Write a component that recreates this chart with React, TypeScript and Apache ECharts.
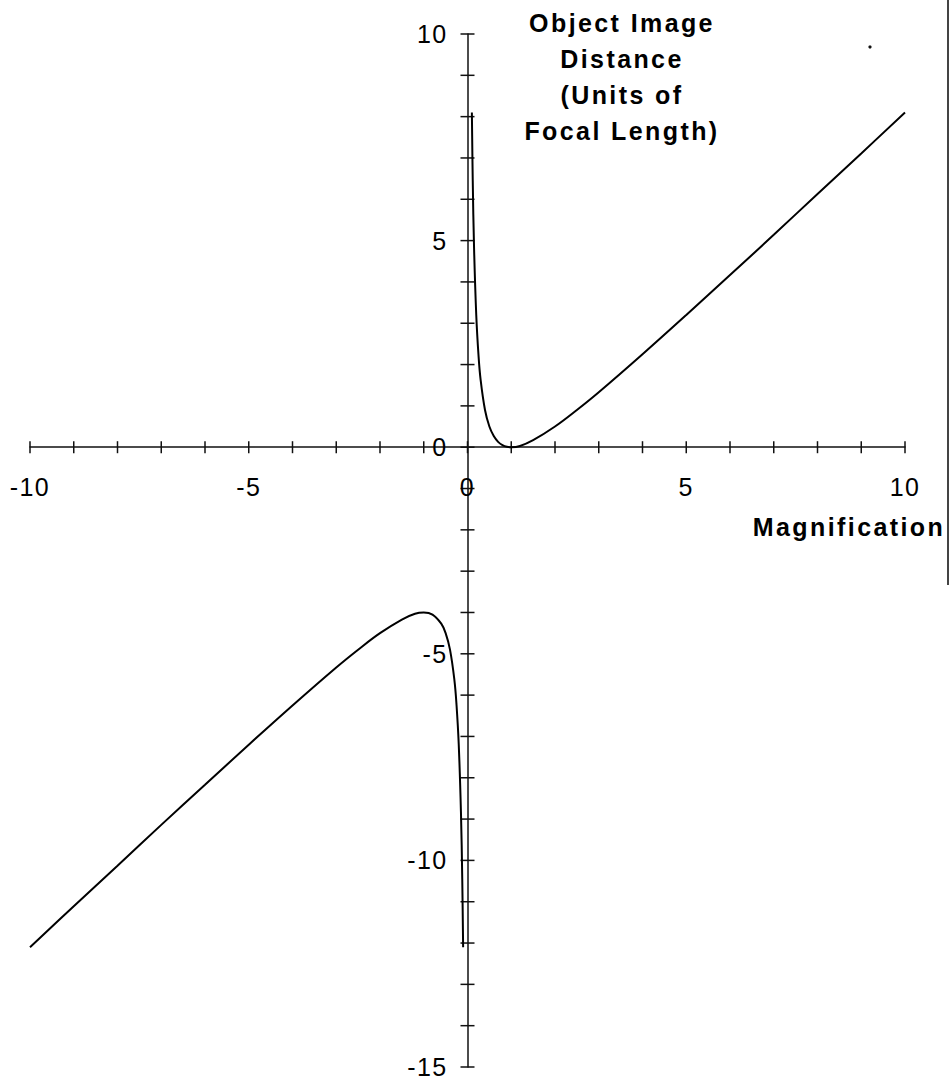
import React, { useEffect, useRef } from "react";
import * as echarts from "echarts";

// Curve: magnification (x) and object-image distance (y)
const magnificationPos = [0.1, 0.12, 0.15, 0.2, 0.25, 0.3, 0.4, 0.5, 0.6, 0.7, 0.8, 0.9, 1, 1.2, 1.5, 2, 2.5, 3, 4, 5, 6, 7, 8, 9, 10];
const distancePos = [8.1, 6.45, 4.82, 3.2, 2.25, 1.63, 0.9, 0.5, 0.27, 0.13, 0.05, 0.01, 0, 0.03, 0.17, 0.5, 0.9, 1.33, 2.25, 3.2, 4.17, 5.14, 6.13, 7.11, 8.1];

const magnificationNeg = [-10, -9, -8, -7, -6, -5, -4, -3, -2.5, -2, -1.5, -1.2, -1, -0.8, -0.6, -0.5, -0.4, -0.3, -0.25, -0.2, -0.15, -0.12, -0.1];
const distanceNeg = [-12.1, -11.11, -10.13, -9.14, -8.17, -7.2, -6.25, -5.33, -4.9, -4.5, -4.17, -4.03, -4, -4.05, -4.27, -4.5, -4.9, -5.63, -6.25, -7.2, -8.82, -10.45, -12.1];

// Tick positions (every unit) on the crossing axes, and the labelled ones
const xTicks = [-10, -9, -8, -7, -6, -5, -4, -3, -2, -1, 0, 1, 2, 3, 4, 5, 6, 7, 8, 9, 10];
const yTicks = [-15, -14, -13, -12, -11, -10, -9, -8, -7, -6, -5, -4, -3, -2, -1, 0, 1, 2, 3, 4, 5, 6, 7, 8, 9, 10];
const xTickLabels = [-10, -5, 0, 5, 10];
const yTickLabels = [-15, -10, -5, 0, 5, 10];

const titleLines = ["Object Image", "Distance", "(Units of", "Focal Length)"];
const xAxisTitle = "Magnification";

export default function App() {
  const ref = useRef<HTMLDivElement>(null);

  useEffect(() => {
    if (!ref.current) return;
    const chart = echarts.init(ref.current, null, { renderer: "svg" });
    const font = "Liberation Sans, Arial, sans-serif";
    const ink = "#111";

    const posData = magnificationPos.map((m, i) => [m, distancePos[i]]);
    const negData = magnificationNeg.map((m, i) => [m, distanceNeg[i]]);

    chart.setOption({
      animation: false,
      backgroundColor: "#fff",
      grid: {
        left: 30,
        right: 45,
        top: 34,
        bottom: 19,
        containLabel: false,
        outerBoundsMode: "none",
      },
      xAxis: {
        type: "value",
        min: -10,
        max: 10,
        interval: 5,
        axisLine: { onZero: true, lineStyle: { color: ink, width: 1.5 } },
        axisTick: { show: false },
        splitLine: { show: false },
        axisLabel: { show: false },
      },
      yAxis: {
        type: "value",
        min: -15,
        max: 10,
        interval: 5,
        axisLine: { onZero: true, lineStyle: { color: ink, width: 1.5 } },
        axisTick: { show: false },
        splitLine: { show: false },
        axisLabel: { show: false },
      },
      graphic: [
        {
          type: "text",
          x: 622,
          y: 5,
          style: {
            text: titleLines.join("\n"),
            textAlign: "center",
            textVerticalAlign: "top",
            font: `bold 25px ${font}`,
            lineHeight: 36,
            fill: "#000",
          },
        },
        {
          type: "text",
          x: 849,
          y: 527,
          style: {
            text: xAxisTitle,
            textAlign: "center",
            textVerticalAlign: "middle",
            font: `bold 25px ${font}`,
            fill: "#000",
          },
        },
        {
          type: "line",
          shape: { x1: 948, y1: 0, x2: 948, y2: 585 },
          style: { stroke: "#444", lineWidth: 2 },
        },
        {
          type: "circle",
          shape: { cx: 870, cy: 47, r: 1.6 },
          style: { fill: "#111" },
        },
      ],
      series: [
        {
          type: "custom",
          coordinateSystem: "cartesian2d",
          clip: false,
          silent: true,
          data: xTicks.map((v) => [v, 0]),
          renderItem: (params: any, api: any) => {
            const p = api.coord([api.value(0), api.value(1)]);
            return {
              type: "line",
              shape: { x1: p[0], y1: p[1] - 6, x2: p[0], y2: p[1] + 6 },
              style: { stroke: ink, lineWidth: 1.5 },
            };
          },
        },
        {
          type: "custom",
          coordinateSystem: "cartesian2d",
          clip: false,
          silent: true,
          data: yTicks.map((v) => [0, v]),
          renderItem: (params: any, api: any) => {
            const p = api.coord([api.value(0), api.value(1)]);
            return {
              type: "line",
              shape: { x1: p[0] - 7, y1: p[1], x2: p[0] + 7, y2: p[1] },
              style: { stroke: ink, lineWidth: 1.5 },
            };
          },
        },
        {
          type: "custom",
          coordinateSystem: "cartesian2d",
          clip: false,
          silent: true,
          data: xTickLabels.map((v) => [v, 0]),
          renderItem: (params: any, api: any) => {
            const v = api.value(0);
            const p = api.coord([v, api.value(1)]);
            return {
              type: "text",
              x: p[0],
              y: p[1] + 40,
              style: {
                text: String(v),
                textAlign: "center",
                textVerticalAlign: "middle",
                font: `25px ${font}`,
                fill: "#000",
              },
            };
          },
        },
        {
          type: "custom",
          coordinateSystem: "cartesian2d",
          clip: false,
          silent: true,
          data: yTickLabels.map((v) => [0, v]),
          renderItem: (params: any, api: any) => {
            const v = api.value(1);
            const p = api.coord([api.value(0), v]);
            return {
              type: "text",
              x: p[0] - 20,
              y: p[1],
              style: {
                text: String(v),
                textAlign: "right",
                textVerticalAlign: "middle",
                font: `25px ${font}`,
                fill: "#000",
              },
            };
          },
        },
        {
          type: "line",
          data: posData,
          showSymbol: false,
          smooth: 0.4,
          lineStyle: { color: "#000", width: 2 },
        },
        {
          type: "line",
          data: negData,
          showSymbol: false,
          smooth: 0.4,
          lineStyle: { color: "#000", width: 2 },
        },
      ],
    });

    return () => chart.dispose();
  }, []);

  return (
    <>
      <style>{`
        .chart-root svg text { letter-spacing: 1.4px; }
        .chart-root svg text[style*="bold"] { letter-spacing: 2.4px; }
      `}</style>
      <div
        ref={ref}
        className="chart-root"
        style={{ position: "absolute", left: 0, top: 0, width: 950, height: 1086 }}
      />
    </>
  );
}
